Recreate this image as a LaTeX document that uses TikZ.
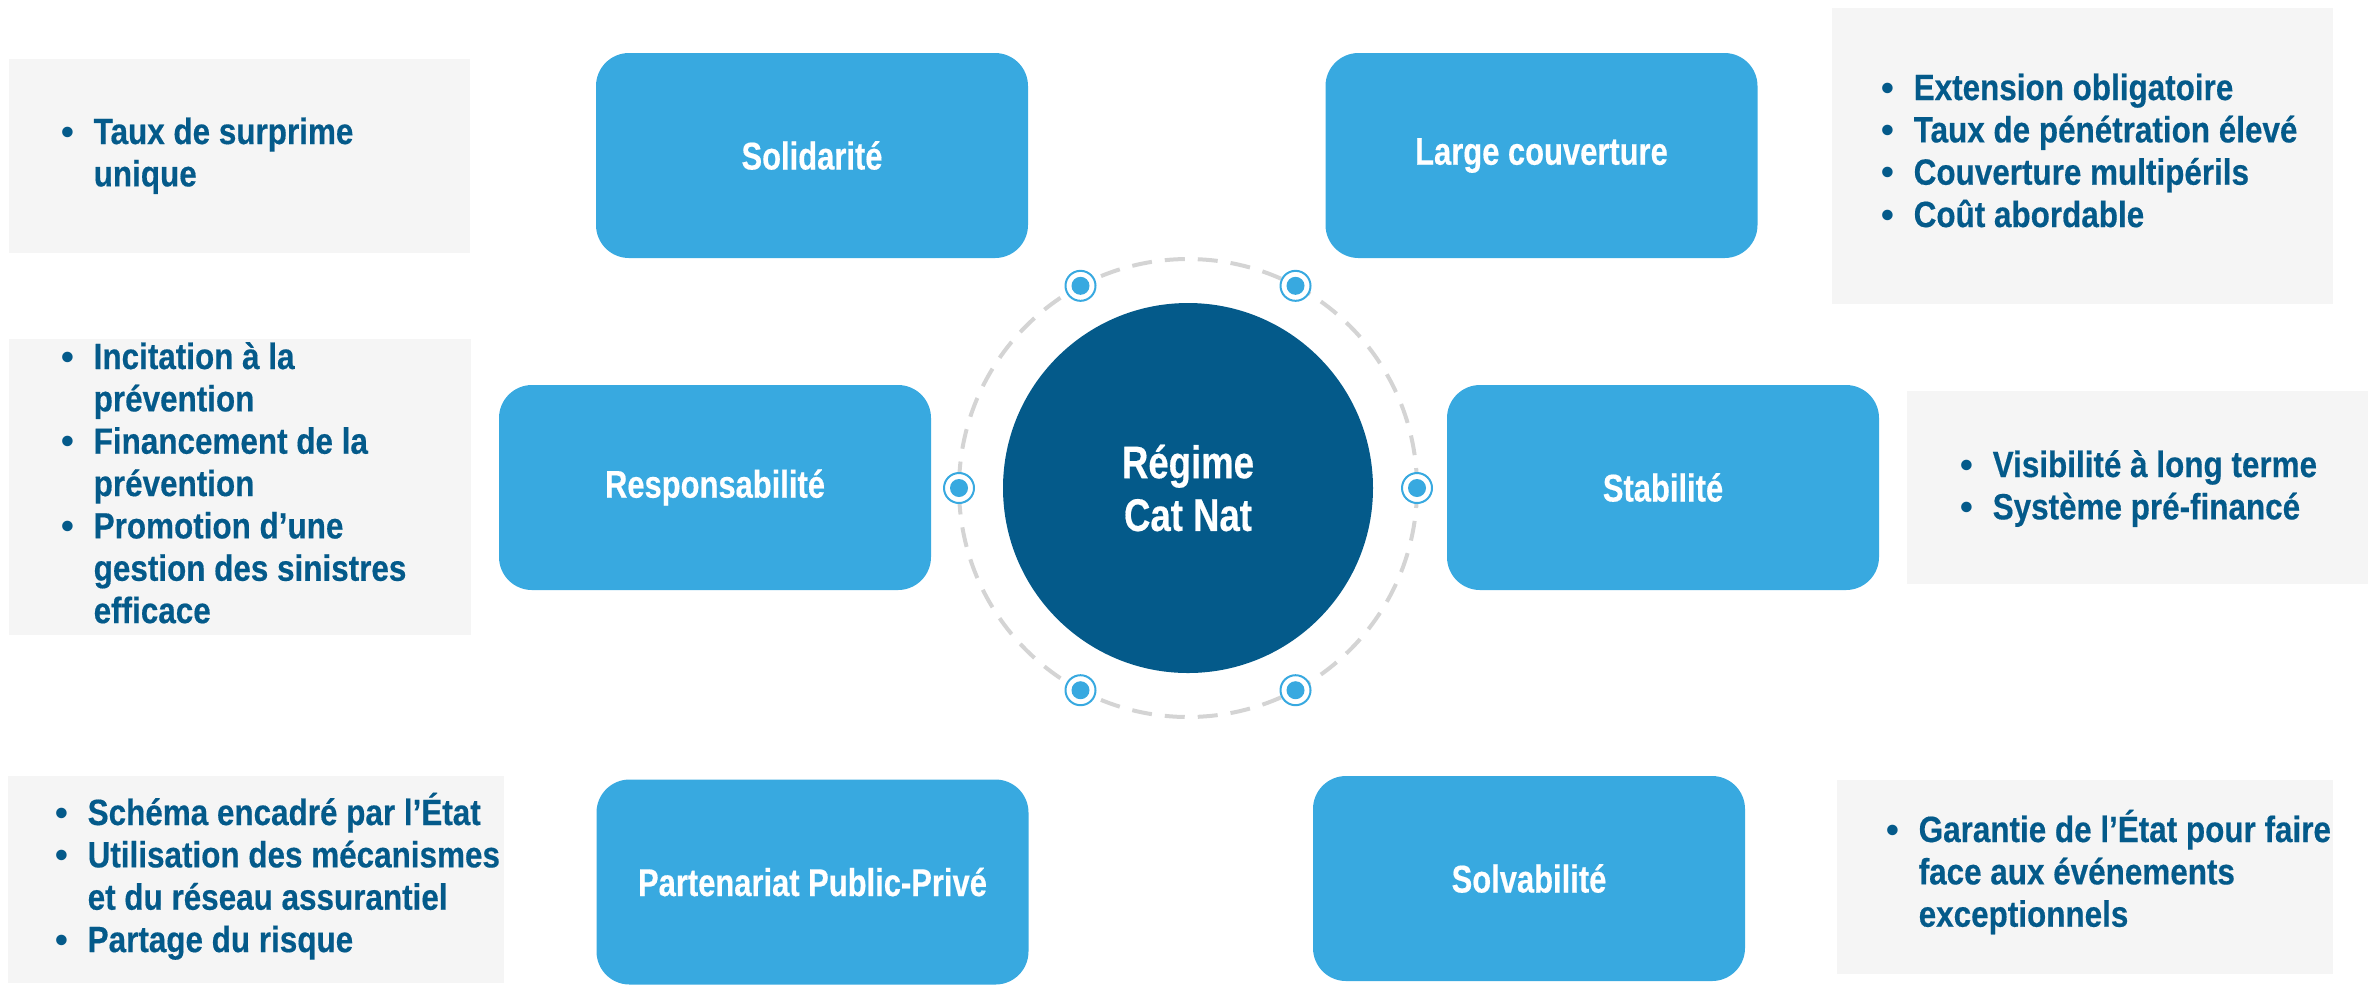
\documentclass[tikz,border=0pt]{standalone}
\usepackage{fontspec}
\setmainfont{Liberation Sans}[FakeStretch=0.8, BoldFeatures={FakeBold=0.4}]
\newfontfamily\listfont{Liberation Sans}[FakeStretch=0.86, BoldFeatures={FakeBold=0.4}]
\newfontfamily\bulfont{Liberation Sans}
\usetikzlibrary{calc}
\definecolor{catblue}{HTML}{38A9E0}
\definecolor{catnavy}{HTML}{045A8A}
\definecolor{catgray}{HTML}{F5F5F5}
\definecolor{ringgray}{HTML}{D4D4D4}
\newcommand{\bul}{\makebox[2.6mm][l]{\makebox[0pt]{\bulfont\bfseries\textbullet}}}
\newcommand{\ind}{\hspace*{2.6mm}}
\begin{document}
\begin{tikzpicture}[x=0.1mm, y=-0.1mm]
\tikzstyle{every node}=[inner sep=0pt]
\tikzstyle{pillar}=[rectangle, rounded corners=3.3mm, fill=catblue, minimum width=43.2mm, minimum height=20.5mm, text=white, font=\fontsize{11}{13}\selectfont\bfseries]
\tikzstyle{panel}=[rectangle, fill=catgray]
\tikzstyle{points}=[anchor=base west, text=catnavy, font=\listfont\fontsize{10.4}{12.05}\selectfont\bfseries]
\tikzstyle{ring}=[circle, draw=catblue, line width=0.2mm, fill=white, minimum size=3mm]
\useasboundingbox (0,0) rectangle (2379,985);
% grey panels behind the bullet lists
\node[panel, minimum width=46.1mm, minimum height=19.4mm] (pansol) at (239.5,156) {};
\node[panel, minimum width=46.2mm, minimum height=29.6mm] (panresp) at (240,487) {};
\node[panel, minimum width=49.6mm, minimum height=20.7mm] (panppp) at (256,879.5) {};
\node[panel, minimum width=50.1mm, minimum height=29.6mm] (pancov) at (2082.5,156) {};
\node[panel, minimum width=46.1mm, minimum height=19.3mm] (panstab) at (2137.5,487.5) {};
\node[panel, minimum width=49.6mm, minimum height=19.4mm] (pansolv) at (2085,877) {};
% bullet lists
\node[points] (txtsol) at (67,144) {\begin{tabular}[t]{@{}l@{}}\bul Taux de surprime\\ \ind unique\end{tabular}};
\node[points] (txtresp) at (67,369) {\begin{tabular}[t]{@{}l@{}}\bul Incitation à la\\ \ind prévention\\ \bul Financement de la\\ \ind prévention\\ \bul Promotion d’une\\ \ind gestion des sinistres\\ \ind efficace\end{tabular}};
\node[points] (txtppp) at (61,825) {\begin{tabular}[t]{@{}l@{}}\bul Schéma encadré par l’État\\ \bul Utilisation des mécanismes\\ \ind et du réseau assurantiel\\ \bul Partage du risque\end{tabular}};
\node[points] (txtcov) at (1887,100) {\begin{tabular}[t]{@{}l@{}}\bul Extension obligatoire\\ \bul Taux de pénétration élevé\\ \bul Couverture multipérils\\ \bul Coût abordable\end{tabular}};
\node[points] (txtstab) at (1966,477) {\begin{tabular}[t]{@{}l@{}}\bul Visibilité à long terme\\ \bul Système pré-financé\end{tabular}};
\node[points] (txtsolv) at (1892,842) {\begin{tabular}[t]{@{}l@{}}\bul Garantie de l’État pour faire\\ \ind face aux événements\\ \ind exceptionnels\end{tabular}};
% centre and dashed orbit
\node[circle, fill=catnavy, minimum size=37mm, text=white, align=center, font=\fontsize{13}{15}\selectfont\bfseries] (core) at (1188,488) {Régime\\Cat Nat};
\draw[ringgray, line width=0.4mm, dash pattern=on 2mm off 1.3mm] (core.center) circle (22.9mm);
\foreach \a [count=\i] in {0,62,118,180,242,298} {
  \node[ring] (mk\i) at ($(core.center)+(\a:229)$) {};
  \fill[catblue] (mk\i.center) circle (0.9mm);
}
% the six pillars
\node[pillar] (sol) at (812,155.5) {Solidarité};
\node[pillar] (cov) at (1541.5,155.5) {Large couverture};
\node[pillar] (resp) at (715,487.5) {Responsabilité};
\node[pillar] (stab) at (1663,487.5) {Stabilité};
\node[pillar] (ppp) at (812.5,882) {Partenariat Public-Privé};
\node[pillar] (solv) at (1529,878.5) {Solvabilité};
\end{tikzpicture}
\end{document}
